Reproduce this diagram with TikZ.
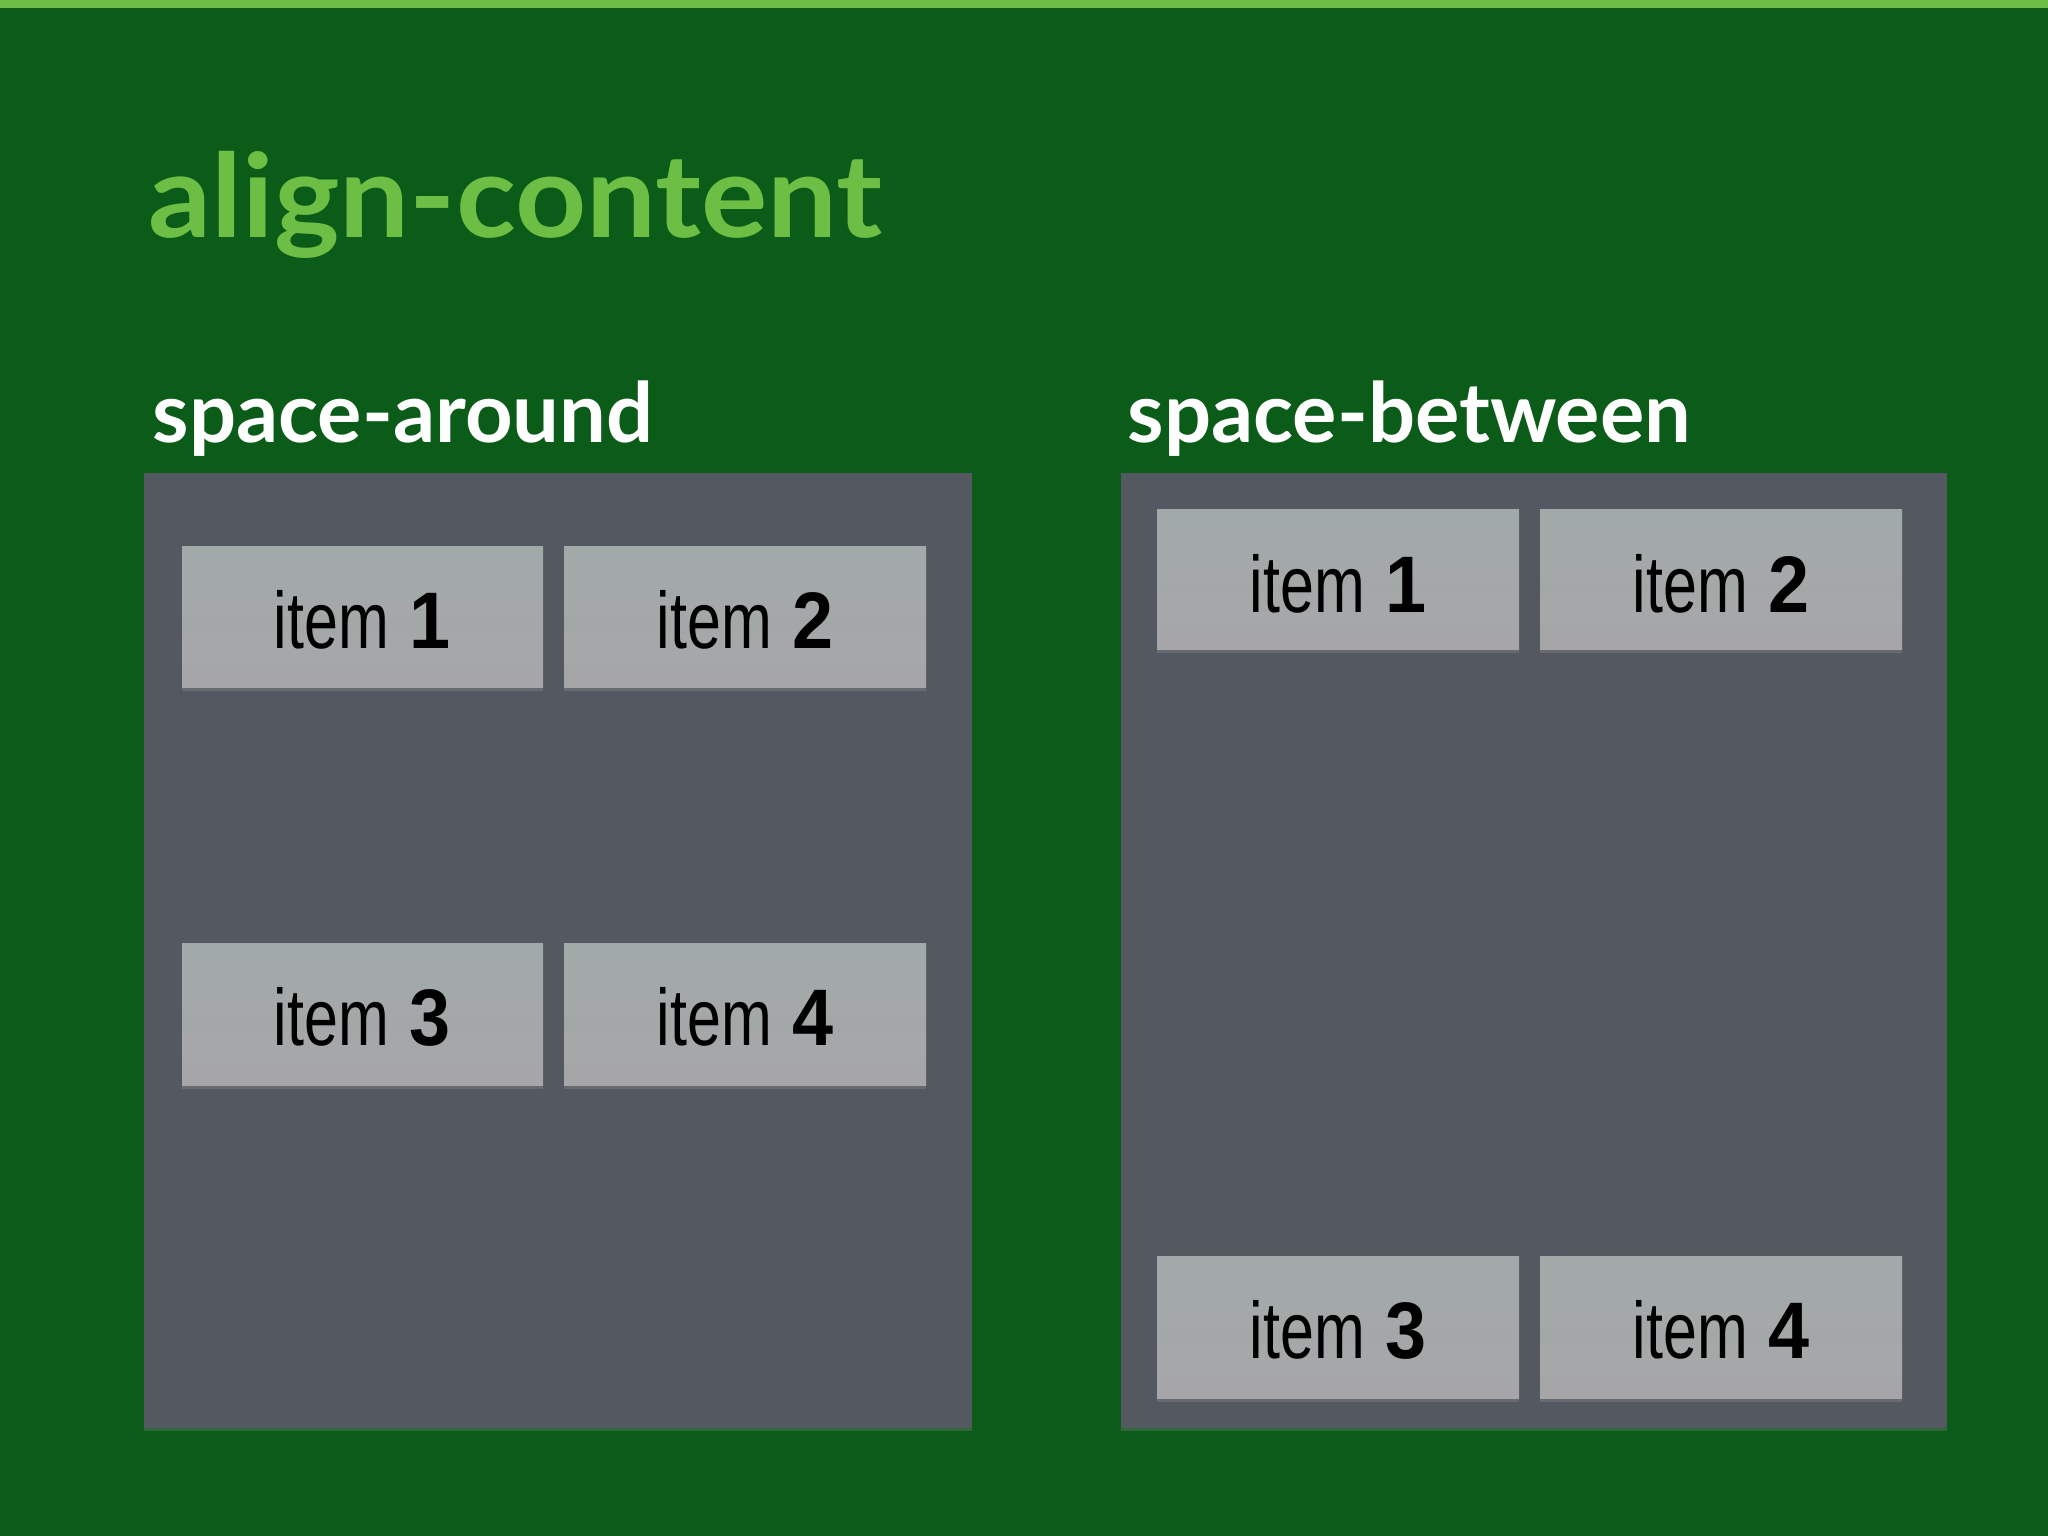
\documentclass[tikz,border=0pt]{standalone}
\usepackage{fontspec}
\setmainfont{Liberation Sans}
\newfontfamily\itemfont{Liberation Sans}
\newfontfamily\headfont{Lato}
\usetikzlibrary{shadows}
\definecolor{bg}{HTML}{0B5C18}
\definecolor{lime}{HTML}{6CBE45}
\definecolor{box}{HTML}{535861}
\definecolor{itemtop}{HTML}{A2A9A9}
\definecolor{itembot}{HTML}{A6A6A8}
\tikzset{
  x=0.01cm, y=-0.01cm,
  container/.style={fill=box, draw=none, drop shadow={shadow xshift=0pt, shadow yshift=-0.03cm, opacity=0.35}},
  itembox/.style={top color=itemtop, bottom color=itembot, draw=none, drop shadow={shadow xshift=0pt, shadow yshift=-0.04cm, opacity=0.45}},
  itemlabel/.style={anchor=base, inner sep=0pt, font=\itemfont\fontsize{22.8pt}{24pt}\selectfont},
  heading/.style={anchor=base west, inner sep=0pt, text=white, font=\headfont\bfseries\fontsize{23.6pt}{26pt}\selectfont},
}
\newcommand{\itemtxt}[1]{\scalebox{0.76}[1]{item}\hspace{0.2cm}\scalebox{0.92}[1]{\textbf{#1}}}
\begin{document}
\begin{tikzpicture}
\useasboundingbox (0,0) rectangle (2048,1536);
\fill[bg] (0,0) rectangle (2048,1536);
\fill[lime] (0,0) rectangle (2048,8);
\node[anchor=base west, inner sep=0pt, text=lime, font=\headfont\bfseries\fontsize{33pt}{36pt}\selectfont] (title) at (148,237) {\scalebox{1.07}[1]{align-content}};
\node[heading] (hleft) at (152,442) {space-around};
\node[heading] (hright) at (1127,442) {space-between};
% containers
\path[container] (144,473) rectangle (972,1428);
\coordinate (cl) at (144,473);
\path[container] (1121,473) rectangle (1947,1428);
\coordinate (cr) at (1121,473);
% left items
\path[itembox] (182,546) rectangle (543,687);
\path[itembox] (564,546) rectangle (926,687);
\path[itembox] (182,943) rectangle (543,1085);
\path[itembox] (564,943) rectangle (926,1085);
\node[itemlabel] (l1) at (362,648) {\itemtxt{1}};
\node[itemlabel] (l2) at (745,648) {\itemtxt{2}};
\node[itemlabel] (l3) at (362,1045) {\itemtxt{3}};
\node[itemlabel] (l4) at (745,1045) {\itemtxt{4}};
% right items
\path[itembox] (1157,509) rectangle (1519,649);
\path[itembox] (1540,509) rectangle (1902,649);
\path[itembox] (1157,1256) rectangle (1519,1398);
\path[itembox] (1540,1256) rectangle (1902,1398);
\node[itemlabel] (r1) at (1338,612) {\itemtxt{1}};
\node[itemlabel] (r2) at (1721,612) {\itemtxt{2}};
\node[itemlabel] (r3) at (1338,1358) {\itemtxt{3}};
\node[itemlabel] (r4) at (1721,1358) {\itemtxt{4}};
\end{tikzpicture}
\end{document}
